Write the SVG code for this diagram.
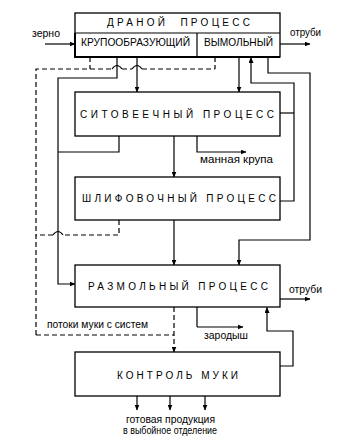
<svg xmlns="http://www.w3.org/2000/svg" width="345" height="446" viewBox="0 0 345 446">
<style>
.box{fill:#fff;stroke:#000;stroke-width:1.3}
.ln{fill:none;stroke:#000;stroke-width:1.2}
.ar{marker-end:url(#ah)}
.ds{fill:none;stroke:#000;stroke-width:1.2;stroke-dasharray:5 3}
.hp{fill:none;stroke:#000;stroke-width:1.1}
.t{font-family:"Liberation Sans",Arial,sans-serif;fill:#000;white-space:pre}
.tt{font-size:10px}
.tb{font-size:10.5px}
.tl{font-size:10px}
</style>
<defs>
<marker id="ah" markerUnits="userSpaceOnUse" markerWidth="6" markerHeight="5" refX="5.5" refY="2.5" orient="auto">
<path d="M0,0 L6,2.5 L0,5 z" fill="#000"/>
</marker>
</defs>
<rect width="345" height="446" fill="#fff"/>
<g id="connectors">
<path class="ln ar" d="M45,44 H75"/>
<path class="ln ar" d="M280,44 H310"/>
<path class="ln ar" d="M137,57 V92"/>
<path class="ln ar" d="M239,57 V92"/>
<path class="ln ar" d="M280,201 H294 V83 H251 V57.5"/>
<path class="ln" d="M280,113 H294"/>
<path class="ln ar" d="M268,57 V73 H310 V240 H239 V265"/>
<path class="ln ar" d="M117,57 V78 H58 V284 H75"/>
<path class="ln" d="M119,136 V152 H58"/>
<path class="ln ar" d="M174,136 V177"/>
<path class="ln ar" d="M197,136 V152 H246"/>
<path class="ln ar" d="M174,220 V265"/>
<path class="ln ar" d="M280,299 H310"/>
<path class="ln ar" d="M197,327 V307 M197,327 H243"/>
<path class="ln ar" d="M280,366 H293 V331 H267 V307.5"/>
<path class="ln ar" d="M137,396 V410"/>
<path class="ln ar" d="M170,396 V410"/>
<path class="ln ar" d="M205,396 V410"/>
<path class="ds" d="M90,57 V69"/>
<path class="ds" d="M215,57 V69"/>
<path class="ds" d="M36,335 V69 H112"/>
<path class="ds" d="M122,69 H132"/>
<path class="ds" d="M142,69 H215"/>
<path class="hp" d="M112,69 Q117,62 122,69 M132,69 Q137,62 142,69"/>
<path class="ds" d="M119,220 V235 H63"/>
<path class="ds" d="M53,235 H36"/>
<path class="hp" d="M63,235 Q58,228 53,235"/>
<path class="ds" d="M36,335 H174"/>
<path class="ds ar" d="M174,307 V352"/>
</g>
<g id="drannoy">
<rect class="box" x="75" y="13" width="205" height="44"/>
<path class="ln" d="M75,33 H280 M197,33 V57"/>
<path fill="none" stroke="#000" stroke-width="2" d="M75,33 V57 H280"/>
<text class="t tt" x="107" y="26" textLength="143" lengthAdjust="spacing">ДРАНОЙ  ПРОЦЕСС</text>
<text class="t tb" x="81" y="46" textLength="109" lengthAdjust="spacingAndGlyphs">КРУПООБРАЗУЮЩИЙ</text>
<text class="t tb" x="204" y="46" textLength="69" lengthAdjust="spacingAndGlyphs">ВЫМОЛЬНЫЙ</text>
</g>
<g id="sitoveechny">
<rect class="box" x="75" y="92" width="205" height="44"/>
<text class="t tt" x="80" y="118" textLength="194" lengthAdjust="spacing">СИТОВЕЕЧНЫЙ ПРОЦЕСС</text>
</g>
<g id="shlifovochny">
<rect class="box" x="75" y="177" width="205" height="43"/>
<text class="t tt" x="82" y="202" textLength="194" lengthAdjust="spacing">ШЛИФОВОЧНЫЙ ПРОЦЕСС</text>
</g>
<g id="razmolny">
<rect class="box" x="75" y="265" width="205" height="42"/>
<text class="t tt" x="88" y="290" textLength="180" lengthAdjust="spacing">РАЗМОЛЬНЫЙ ПРОЦЕСС</text>
</g>
<g id="kontrol">
<rect class="box" x="75" y="352" width="205" height="44"/>
<text class="t tt" x="117" y="379" textLength="121" lengthAdjust="spacing">КОНТРОЛЬ МУКИ</text>
</g>
<g id="labels">
<text class="t tl" x="32" y="37" textLength="28" lengthAdjust="spacingAndGlyphs">зерно</text>
<text class="t tl" x="290" y="36" textLength="31" lengthAdjust="spacingAndGlyphs">отруби</text>
<text class="t tl" x="200" y="163" textLength="73" lengthAdjust="spacingAndGlyphs">манная крупа</text>
<text class="t tl" x="289" y="293" textLength="33" lengthAdjust="spacingAndGlyphs">отруби</text>
<text class="t tl" x="47" y="328" textLength="101" lengthAdjust="spacingAndGlyphs">потоки муки с систем</text>
<text class="t tl" x="204" y="339" textLength="44" lengthAdjust="spacingAndGlyphs">зародыш</text>
<text class="t tl" x="126" y="423" textLength="89" lengthAdjust="spacingAndGlyphs">готовая продукция</text>
<text class="t tl" x="123" y="434" textLength="94" lengthAdjust="spacingAndGlyphs">в выбойное отделение</text>
</g>
</svg>
